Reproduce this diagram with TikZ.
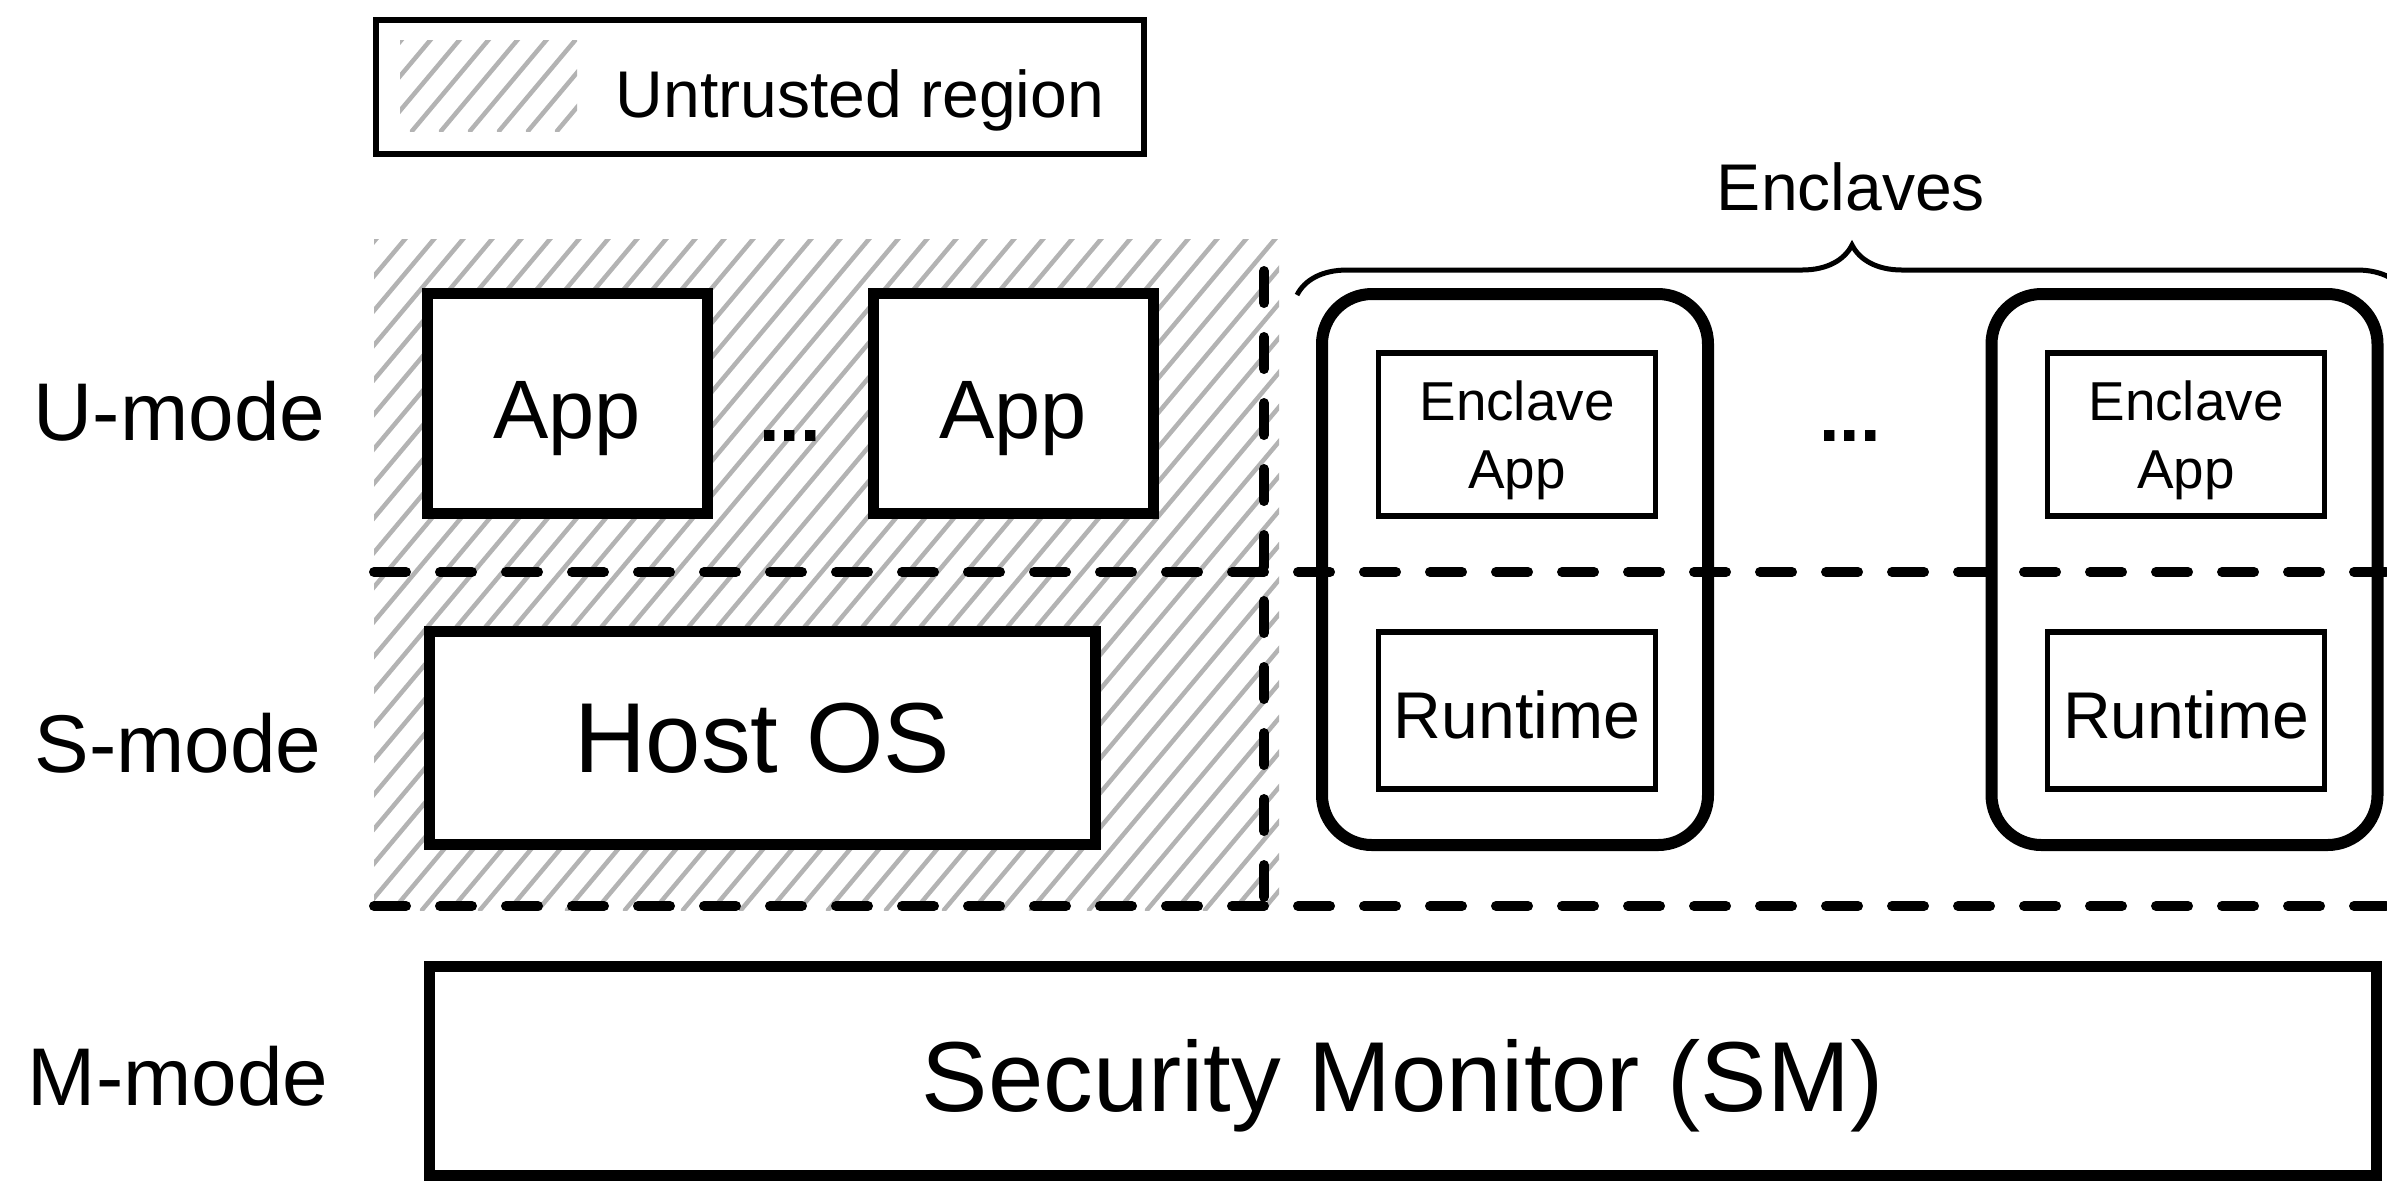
\documentclass[tikz,border=0pt]{standalone}
\usepackage{fontspec}
\setmainfont{Liberation Sans}
\usepackage{tikz}
\usepackage{tkz-euclide}
\usetikzlibrary{decorations.pathreplacing}

\definecolor{hatchgray}{RGB}{179,179,179}
\tikzset{
    modetext/.style={font=\fontsize{23.3}{28}\selectfont},
    appbox/.style={draw, line width=0.11cm, fill=white, inner sep=0pt, text depth=0pt, text height=0.71cm,
        minimum width=2.80cm, minimum height=2.20cm, font=\fontsize{23.6}{28}\selectfont},
    bigbox/.style={draw, line width=0.11cm, fill=white, inner sep=0pt, text depth=0pt,
        font=\fontsize{28.3}{34}\selectfont},
    enclavebox/.style={draw, line width=0.12cm, rounded corners=0.5cm,
        minimum width=3.86cm, minimum height=5.51cm},
    innerbox/.style={draw, line width=0.055cm, fill=white, inner sep=0pt, text depth=0pt, minimum width=2.77cm},
    sepline/.style={line width=0.10cm, dash pattern=on 0.32cm off 0.34cm},
    hatchline/.style={line width=0.045cm, color=hatchgray, line cap=round},
    dots/.style={font=\bfseries\fontsize{21}{25}\selectfont, inner sep=0pt, anchor=base},
}

\begin{document}
\begin{tikzpicture}
    \useasboundingbox (0,0) rectangle (23.87,-11.85);
    \clip (0,0) rectangle (23.87,-11.85);

    \node[draw, line width=0.06cm, minimum width=7.68cm, minimum height=1.34cm] (legend) at (7.60,-0.87) {};
    \begin{scope}
        \clip (4.00,-0.40) rectangle (5.77,-1.31);
        \foreach \x in {2.67,2.96,...,5.8}
            \draw[hatchline] (\x,-1.31) -- ++(50:1.3);
    \end{scope}
    \node[font=\fontsize{18.8}{23}\selectfont, anchor=base west, inner sep=0pt] (legendtext) at (6.15,-1.17) {Untrusted region};

    \begin{scope}
        \clip (3.74,-2.39) rectangle (12.79,-9.10);
        \foreach \x in {-1.87,-1.58,...,12.8}
            \draw[hatchline] (\x,-9.10) -- ++(50:8.8);
    \end{scope}

    \tkzDefPoint(3.74,-5.72){us}
    \tkzDefPoint(23.87,-5.72){ue}
    \tkzDefPoint(3.74,-9.06){ss}
    \tkzDefPoint(23.87,-9.06){se}
    \tkzDefPoint(12.64,-2.71){vt}
    \tkzDefPoint(12.64,-9.06){vb}
    \tkzDrawSegments[sepline](us,ue ss,se vt,vb)

    \node[modetext] (umode) at (1.795,-4.11) {U-mode};
    \node[modetext] (smode) at (1.78,-7.43) {S-mode};
    \node[modetext] (mmode) at (1.78,-10.76) {M-mode};

    \node[appbox] (app1) at (5.67,-4.03) {App};
    \node[appbox] (app2) at (10.13,-4.03) {App};
    \node[dots] (appdots) at (7.90,-4.41) {...};
    \node[bigbox, minimum width=6.66cm, minimum height=2.13cm] (hostos) at (7.62,-7.375) {Host OS};
    \node[bigbox, minimum width=19.47cm, minimum height=2.09cm, text height=0.82cm] (sm) at (14.025,-10.705) {Security Monitor (SM)};

    \node[enclavebox] (enc1) at (15.15,-5.695) {};
    \node[enclavebox] (enc2) at (21.845,-5.695) {};
    \node[innerbox, minimum height=1.63cm, align=center,
        font=\fontsize{15.6}{19.3}\selectfont] (eapp1) at (15.17,-4.345) {Enclave\\App};
    \node[innerbox, minimum height=1.57cm, text height=0.56cm,
        font=\fontsize{18.8}{23}\selectfont] (rt1) at (15.17,-7.105) {Runtime};
    \node[innerbox, minimum height=1.63cm, align=center,
        font=\fontsize{15.6}{19.3}\selectfont] (eapp2) at (21.86,-4.345) {Enclave\\App};
    \node[innerbox, minimum height=1.57cm, text height=0.56cm,
        font=\fontsize{18.8}{23}\selectfont] (rt2) at (21.86,-7.105) {Runtime};
    \node[dots] (encdots) at (18.50,-4.41) {...};

    \tkzDefPoint(12.97,-2.95){bl}
    \tkzDefPoint(24.07,-2.95){br}
    \draw[decorate, decoration={brace, amplitude=0.5cm}, line width=0.05cm] (bl) -- (br);
    \node[font=\fontsize{18.8}{23}\selectfont] (enclaves) at (18.51,-1.87) {Enclaves};

\end{tikzpicture}
\end{document}
